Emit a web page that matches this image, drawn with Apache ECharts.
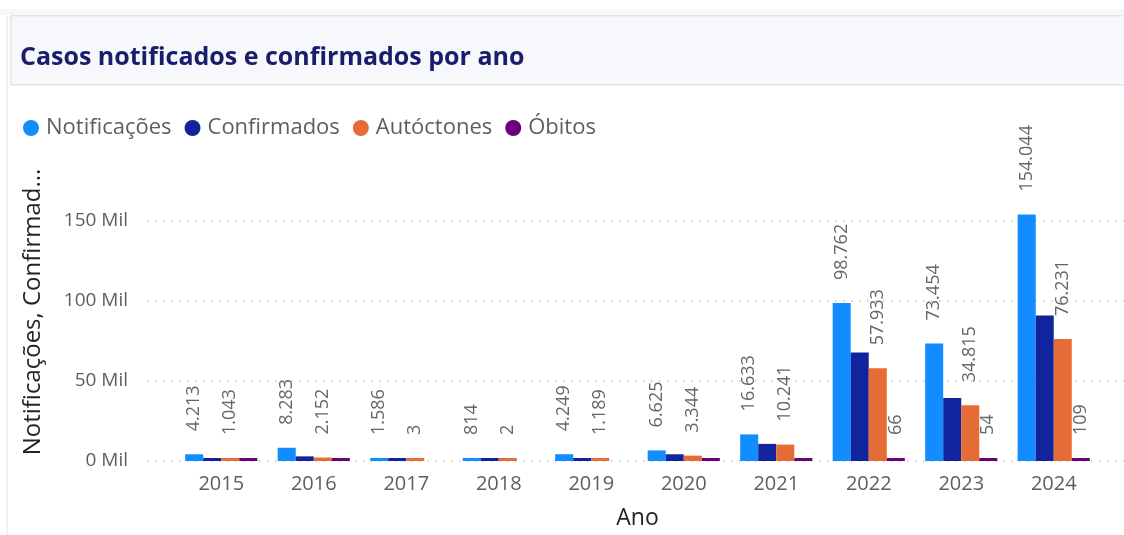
<!DOCTYPE html>
<html><head><meta charset="utf-8">
<script src="https://cdn.jsdelivr.net/npm/echarts@6/dist/echarts.min.js"></script>
<style>html,body{margin:0;padding:0;background:#fff}#c{width:1124px;height:535px}</style>
</head><body><div id="c"></div>
<script>
const chartTitle = 'Casos notificados e confirmados por ano';
const years = ['2015', '2016', '2017', '2018', '2019', '2020', '2021', '2022', '2023', '2024'];
const seriesNames = ['Notificações', 'Confirmados', 'Autóctones', 'Óbitos'];
const notificacoes = [4213, 8283, 1586, 814, 4249, 6625, 16633, 98762, 73454, 154044];
const confirmados = [1300, 2900, 120, 50, 1300, 4200, 10700, 67800, 39300, 90900];
const autoctones = [1043, 2152, 3, 2, 1189, 3344, 10241, 57933, 34815, 76231];
const obitos = [4, 6, null, null, null, 12, 30, 66, 54, 109];
const obitosLabelShown = [false, false, false, false, false, false, false, true, true, true];
const yAxisTitle = 'Notificações, Confirmad...';
const xAxisTitle = 'Ano';

const FONT = "'Open Sans', 'Noto Sans', sans-serif";
const colors = ['#118DFF', '#12239E', '#E66C37', '#6B007B'];
const fmt = v => String(v).replace(/\B(?=(\d{3})+(?!\d))/g, '.');

const Y_MAX = 170000;
const gridTop = 189, gridBottom = 74;

const labelBase = {
  show: true, position: 'top', rotate: 90, align: 'left', verticalAlign: 'middle',
  distance: 23, color: '#666666', fontSize: 18, fontFamily: FONT,
  formatter: p => fmt(p.value)
};

const chart = echarts.init(document.getElementById('c'), null, {renderer: 'canvas'});
chart.setOption({
  animation: false,
  color: colors,
  textStyle: {fontFamily: FONT},
  graphic: [
    {type: 'rect', left: 0, top: 9, shape: {width: 1124, height: 6}, style: {fill: '#f6f7fb'}, silent: true},
    {type: 'rect', left: 10, top: 15, shape: {width: 1130, height: 69}, style: {fill: '#f6f8fc', stroke: '#e3e4e8', lineWidth: 1.5}, silent: true},
    {type: 'line', shape: {x1: 7, y1: 15, x2: 7, y2: 535}, style: {stroke: '#ececec', lineWidth: 1.5}, silent: true},
    {type: 'text', x: 33, y: 312, rotation: Math.PI / 2,
     style: {text: yAxisTitle, fill: '#252423', font: "24px " + FONT, textAlign: 'center', textVerticalAlign: 'middle'}}
  ],
  title: {
    text: chartTitle, left: 15, top: 40,
    textStyle: {fontFamily: FONT, fontSize: 25, fontWeight: 'bold', color: '#1a1d6b'}
  },
  legend: {
    left: 18, top: 112, itemWidth: 16, itemHeight: 16, itemGap: 13, icon: 'circle',
    textStyle: {fontFamily: FONT, fontSize: 22, color: '#605E5C', padding: [0, 0, 0, 2]},
    data: seriesNames
  },
  grid: [
    {left: 147, right: 0, top: gridTop, bottom: gridBottom},
    {left: 175, right: 24, top: gridTop, bottom: gridBottom}
  ],
  xAxis: [
    {gridIndex: 0, type: 'value', show: false, min: 0, max: 1},
    {gridIndex: 1, type: 'category', data: years,
     axisLine: {show: false}, axisTick: {show: false},
     axisLabel: {color: '#605E5C', fontSize: 20, fontFamily: FONT, margin: 13},
     name: xAxisTitle, nameLocation: 'middle', nameGap: 46,
     nameTextStyle: {color: '#252423', fontSize: 23, fontFamily: FONT}}
  ],
  yAxis: [
    {gridIndex: 0, type: 'value', min: 0, max: Y_MAX, interval: 50000,
     axisLine: {show: false}, axisTick: {show: false},
     axisLabel: {color: '#605E5C', fontSize: 19, fontFamily: FONT, margin: 19, showMaxLabel: false,
       formatter: v => (v / 1000) + ' Mil'},
     splitLine: {show: true, showMaxLine: false, lineStyle: {color: '#c4c4c4', width: 1.5, type: [1.5, 6.5]}}},
    {gridIndex: 1, type: 'value', min: 0, max: Y_MAX, show: false, splitLine: {show: false}}
  ],
  series: [
    {name: seriesNames[0], type: 'bar', xAxisIndex: 1, yAxisIndex: 1, data: notificacoes,
     barGap: '0%', barCategoryGap: '22%', barMinHeight: 3, label: labelBase},
    {name: seriesNames[1], type: 'bar', xAxisIndex: 1, yAxisIndex: 1, data: confirmados,
     barGap: '0%', barCategoryGap: '22%', barMinHeight: 3, label: {show: false}},
    {name: seriesNames[2], type: 'bar', xAxisIndex: 1, yAxisIndex: 1, data: autoctones,
     barGap: '0%', barCategoryGap: '22%', barMinHeight: 3, label: labelBase},
    {name: seriesNames[3], type: 'bar', xAxisIndex: 1, yAxisIndex: 1,
     data: obitos.map((v, i) => ({value: v, label: {show: obitosLabelShown[i]}})),
     barGap: '0%', barCategoryGap: '22%', barMinHeight: 3, label: labelBase}
  ]
});
</script>
</body></html>
